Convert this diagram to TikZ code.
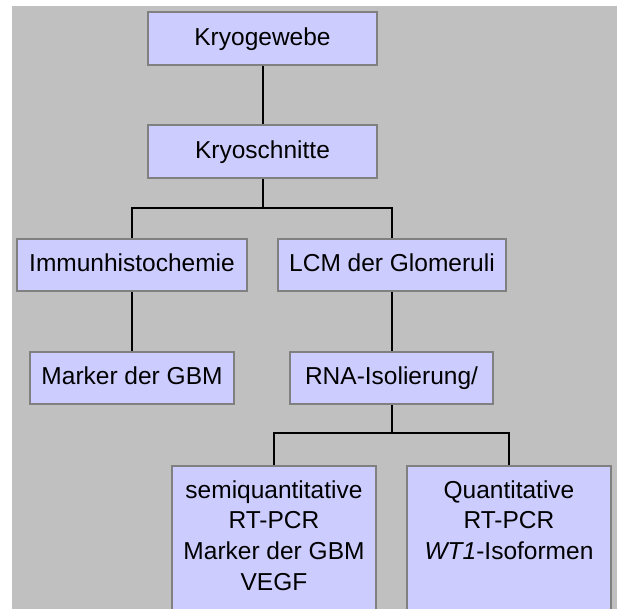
\documentclass[tikz,border=0pt]{standalone}
\usepackage{fontspec}
\setmainfont{Liberation Sans}
\begin{document}
\begin{tikzpicture}[x=1pt,y=-1pt,
  box/.style={draw=boxline, fill=boxfill, line width=1.8pt, inner sep=0pt,
    font=\fontsize{24.5}{30.7}\selectfont, text height=17.5pt, text depth=3.5pt},
  tallbox/.style={draw=boxline, fill=boxfill, line width=1.8pt, inner sep=0pt,
    anchor=north, minimum height=170pt},
  txt/.style={inner sep=0pt, anchor=north, align=center,
    font=\fontsize{24.5}{30.7}\selectfont},
  conn/.style={draw=black, line width=2pt}]
\definecolor{boxfill}{RGB}{204,204,255}
\definecolor{boxline}{RGB}{128,128,128}
\definecolor{bg}{RGB}{192,192,192}
\useasboundingbox (0,0) rectangle (622,609);
\clip (0,0) rectangle (622,609);
% grey panel
\fill[bg] (12,6) rectangle (617,620);

% boxes
\node[box, minimum width=229pt, minimum height=53pt] (kg) at (262.5,38.5) {Kryogewebe};
\node[box, minimum width=229pt, minimum height=53pt] (ks) at (262.5,151.5) {Kryoschnitte};
\node[box, minimum width=230pt, minimum height=52pt] (ih) at (132,265) {Immunhistochemie};
\node[box, minimum width=228pt, minimum height=52pt] (lcm) at (392,265) {LCM der Glomeruli};
\node[box, minimum width=204pt, minimum height=52pt] (mk) at (132,378) {Marker der GBM};
\node[box, minimum width=203pt, minimum height=52pt] (rna) at (391.5,378) {RNA-Isolierung/};
\node[tallbox, minimum width=204pt] (sq) at (274,465) {};
\node[tallbox, minimum width=204pt] (qt) at (509,465) {};
\node[txt] (sqt) at (274,476.5) {\strut semiquantitative\\RT-PCR\\Marker der GBM\\VEGF};
\node[txt] (qtt) at (509,476.5) {\strut Quantitative\\RT-PCR\\\textit{WT1}-Isoformen};

% connectors
\draw[conn] (kg.south) -- (ks.north);
\draw[conn] (ks.south) -- ++(0,29) coordinate (b1) -| (ih.north);
\draw[conn] (b1) -| (lcm.north);
\draw[conn] (ih.south) -- (mk.north);
\draw[conn] (lcm.south) -- (lcm.south |- rna.north);
\draw[conn] (rna.south) -- ++(0,28) coordinate (b2) -| (sq.north);
\draw[conn] (b2) -| (qt.north);
\end{tikzpicture}
\end{document}
